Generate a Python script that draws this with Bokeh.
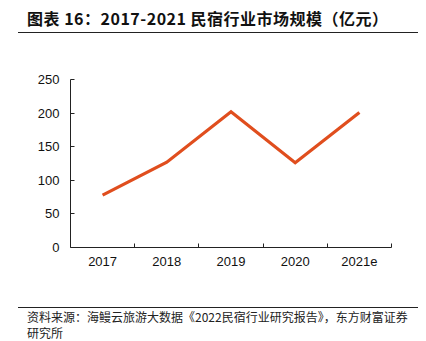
from bokeh.plotting import figure
from bokeh.models import Range1d, FixedTicker, Div
from bokeh.layouts import column
from bokeh.embed import file_html
from bokeh.resources import INLINE

# data
years = ["2017", "2018", "2019", "2020", "2021e"]
scale = [78, 127, 202, 126, 201]
y_ticks = [0, 50, 100, 150, 200, 250]
title_text = "图表 16：2017-2021 民宿行业市场规模（亿元）"
source_line1 = "资料来源：海鳗云旅游大数据《2022民宿行业研究报告》，东方财富证券"
source_line2 = "研究所"

xs = [i + 0.5 for i in range(len(years))]

TOP_H = 40
FIG_H = 260
BOT_H = 341 - TOP_H - FIG_H

p = figure(width=426, height=FIG_H, output_backend="svg", toolbar_location=None,
           x_range=Range1d(0, len(years)), y_range=Range1d(0, 250),
           min_border_left=70, min_border_right=35, min_border_top=79 - TOP_H,
           min_border_bottom=TOP_H + FIG_H - 247)
p.outline_line_color = None
p.xgrid.visible = False
p.ygrid.visible = False
p.background_fill_color = "white"
p.border_fill_color = "white"

p.line(xs, scale, line_color="#E04E1E", line_width=3.2, line_join="miter")

# x axis
xa = p.xaxis[0]
xa.ticker = FixedTicker(ticks=xs, minor_ticks=[float(i) for i in range(1, len(years) + 1)])
xa.major_label_overrides = {x: y for x, y in zip(xs, years)}
xa.major_tick_in = 0
xa.major_tick_out = 0
xa.minor_tick_in = 4
xa.minor_tick_out = 0
xa.minor_tick_line_color = "#222222"
xa.axis_line_color = "#222222"
xa.major_label_text_font = "Liberation Sans"
xa.major_label_text_font_size = "13px"
xa.major_label_text_color = "#111111"
xa.major_label_standoff = 9

# y axis
ya = p.yaxis[0]
ya.ticker = FixedTicker(ticks=y_ticks)
ya.major_tick_in = 4
ya.major_tick_out = 0
ya.minor_tick_line_color = None
ya.axis_line_color = "#222222"
ya.major_tick_line_color = "#222222"
ya.major_label_text_font = "Liberation Sans"
ya.major_label_text_font_size = "13px"
ya.major_label_text_color = "#111111"
ya.major_label_standoff = 11

top_html = (
    '<div style="position:relative;width:426px;height:%dpx;background:white;">'
    '<div style="position:absolute;left:27px;top:7px;font-family:\'Noto Sans CJK SC\';'
    'font-weight:bold;font-size:16px;line-height:22px;letter-spacing:0.5px;color:#111;white-space:nowrap;">%s</div>'
    '<div style="position:absolute;left:18px;top:32px;width:400px;height:1px;background:#222;"></div>'
    '</div>' % (TOP_H, title_text)
)
bot_html = (
    '<div style="position:relative;width:426px;height:%dpx;background:white;">'
    '<div style="position:absolute;left:18px;top:7px;width:400px;height:1px;background:#222;"></div>'
    '<div style="position:absolute;left:27px;top:9px;font-family:\'Noto Sans CJK SC\';'
    'font-size:12px;line-height:15.5px;color:#222;white-space:nowrap;">%s<br>%s</div>'
    '</div>' % (BOT_H, source_line1, source_line2)
)

top = Div(text=top_html, width=426, height=TOP_H, margin=0)
bot = Div(text=bot_html, width=426, height=BOT_H, margin=0)

layout = column(top, p, bot, spacing=0)

open("out.html", "w").write(file_html(layout, INLINE))
